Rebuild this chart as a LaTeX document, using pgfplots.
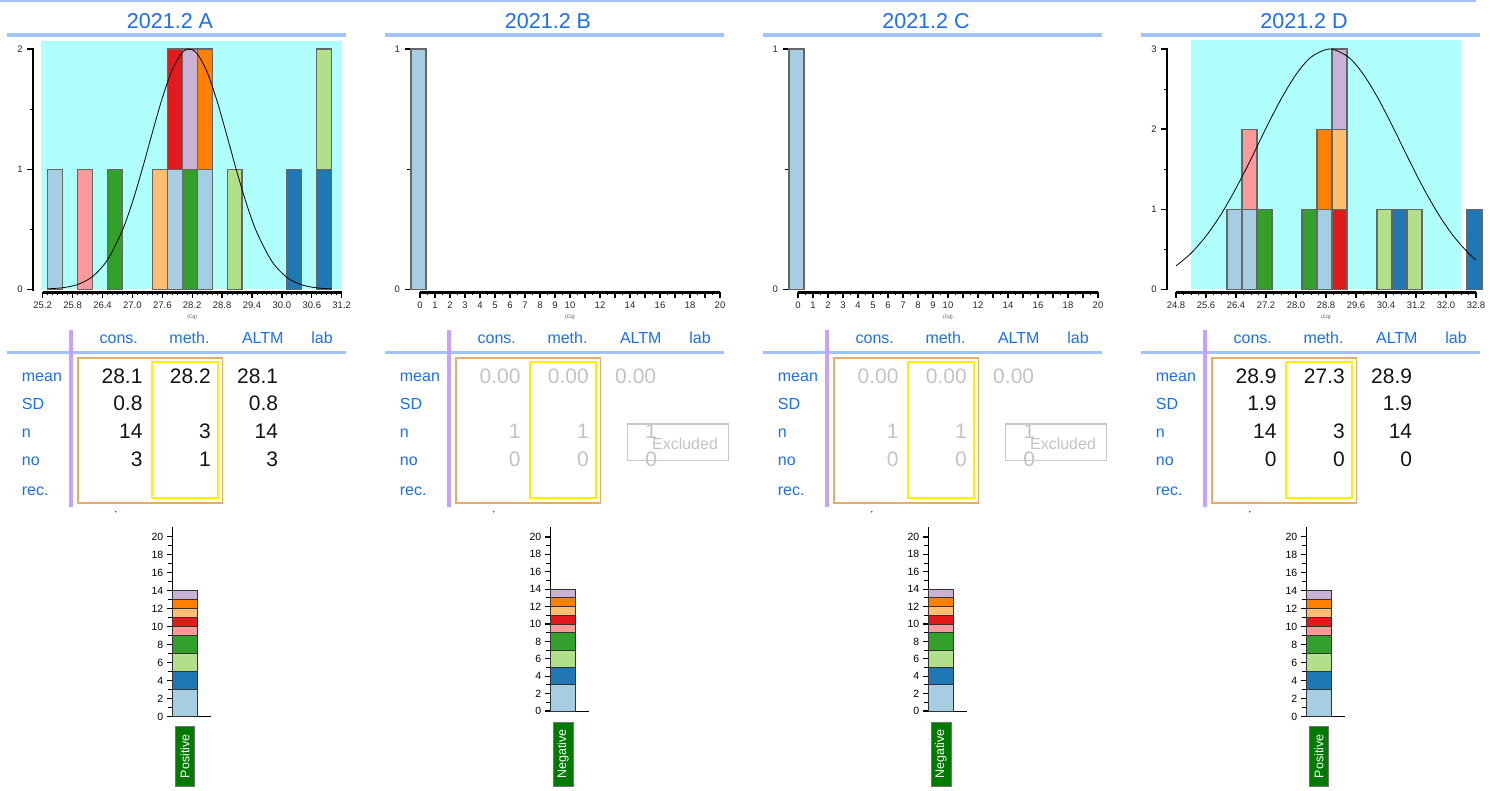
\documentclass[border=0pt]{standalone}
\usepackage{fontspec}
\setmainfont{Liberation Sans}
\usepackage{pgfplots}
\usepackage{pgfplotstable}
\pgfplotsset{compat=1.18}

\definecolor{hdrblue}{RGB}{26,110,240}
\definecolor{linblue}{RGB}{160,196,250}
\definecolor{purp}{RGB}{200,160,255}
\definecolor{boxor}{RGB}{232,172,100}
\definecolor{boxyel}{RGB}{255,238,0}
\definecolor{cyanbg}{RGB}{175,255,252}
\definecolor{gtxt}{RGB}{195,195,195}
\definecolor{gbox}{RGB}{200,200,200}
\definecolor{posgreen}{RGB}{0,122,0}
\definecolor{cLB}{HTML}{A6CEE3}
\definecolor{cB}{HTML}{1F78B4}
\definecolor{cLG}{HTML}{B2DF8A}
\definecolor{cG}{HTML}{33A02C}
\definecolor{cPK}{HTML}{FB9A99}
\definecolor{cR}{HTML}{E31A1C}
\definecolor{cLO}{HTML}{FDBF6F}
\definecolor{cO}{HTML}{FF7F00}
\definecolor{cLV}{HTML}{CAB2D6}

\newcommand\titlefont{\fontsize{21.5}{24}\selectfont}
\newcommand\hdrfont{\fontsize{16}{19}\selectfont}
\newcommand\valfont{\fontsize{21}{24}\selectfont}
\newcommand\tickfont{\fontsize{9.5}{11}\selectfont}

% histogram counts per colour group (bin centre, counts)
\pgfplotstableread{
x LB B LG G PK R LO O LV
25.45 1 0 0 0 0 0 0 0 0
26.05 0 0 0 0 1 0 0 0 0
26.65 0 0 0 1 0 0 0 0 0
27.55 0 0 0 0 0 0 1 0 0
27.85 1 0 0 0 0 1 0 0 0
28.15 0 0 0 1 0 0 0 0 1
28.45 1 0 0 0 0 0 0 1 0
29.05 0 0 1 0 0 0 0 0 0
30.25 0 1 0 0 0 0 0 0 0
30.85 0 1 1 0 0 0 0 0 0
}\histA
\pgfplotstableread{
x LB B LG G PK R LO O LV
-0.1 1 0 0 0 0 0 0 0 0
}\histB
\pgfplotstableread{
x LB B LG G PK R LO O LV
26.36 1 0 0 0 0 0 0 0 0
26.76 1 0 0 0 1 0 0 0 0
27.16 0 0 0 1 0 0 0 0 0
28.36 0 0 0 1 0 0 0 0 0
28.76 1 0 0 0 0 0 0 1 0
29.16 0 0 0 0 0 1 1 0 1
30.36 0 0 1 0 0 0 0 0 0
30.76 0 1 0 0 0 0 0 0 0
31.16 0 0 1 0 0 0 0 0 0
32.76 0 1 0 0 0 0 0 0 0
}\histD
\pgfplotstableread{
x LB B LG G PK R LO O LV
0.331 3 2 2 2 1 1 1 1 1
}\stackdata

\newcommand\stackbars[1]{%
  \addplot[fill=cLB] table[x=x,y=LB]{#1};
  \addplot[fill=cB]  table[x=x,y=B]{#1};
  \addplot[fill=cLG] table[x=x,y=LG]{#1};
  \addplot[fill=cG]  table[x=x,y=G]{#1};
  \addplot[fill=cPK] table[x=x,y=PK]{#1};
  \addplot[fill=cR]  table[x=x,y=R]{#1};
  \addplot[fill=cLO] table[x=x,y=LO]{#1};
  \addplot[fill=cO]  table[x=x,y=O]{#1};
  \addplot[fill=cLV] table[x=x,y=LV]{#1};
}

\pgfplotsset{
  hist/.style={
    scale only axis, anchor=south west, height=240.3pt, clip=false,
    axis x line=bottom, axis y line=left,
    axis x line shift=3pt, axis y line shift=10pt,
    x axis line style={-, line width=2.5pt},
    y axis line style={draw=none},
    tick align=outside,
    major tick length=5.5pt, minor tick length=3pt,
    every tick/.style={black},
    every major tick/.append style={line width=1.3pt},
    every minor tick/.append style={line width=0.9pt},
    tick label style={font=\tickfont, text=black!85},
    xticklabel style={yshift=-1pt},
    yticklabel style={xshift=-1pt},
    /pgf/number format/assume math mode=true,
    xlabel={(Cq)},
    xlabel style={font=\fontsize{5}{6}\selectfont, text=black!70, at={(axis description cs:0.5,0)}, anchor=north, yshift=-22pt},
    ybar stacked,
    every axis plot/.append style={draw=black!60, line width=1.1pt},
  },
  curveax/.style={scale only axis, anchor=south west, height=240.3pt, hide axis, clip=false},
  stk/.style={
    scale only axis, anchor=south west, width=38.4pt, xmin=0, xmax=1, ymin=0, ymax=21.1, clip=false,
    axis x line=bottom, axis y line=left,
    x axis line style={-, line width=1pt}, y axis line style={-, line width=1.6pt},
    xtick=\empty, ytick={0,2,...,20}, minor ytick={1,3,...,19},
    tick align=outside, major tick length=5.5pt, minor tick length=4pt,
    every tick/.style={black, line width=1.1pt},
    tick label style={font=\fontsize{10.5}{12}\selectfont},
    /pgf/number format/assume math mode=true,
    ybar stacked, bar width=0.64,
    every axis plot/.append style={draw=black!80, line width=0.9pt},
  },
}

\newcommand\PanelFrame[2]{%
\begin{scope}[x=1pt,y=-1pt,xshift=#1pt]
  \node[anchor=base, font=\titlefont, text=hdrblue, inner sep=0] at (170,28.3) {#2};
  \draw[linblue, line width=3.3pt] (7,35) -- (346,35);
  \draw[linblue, line width=3.5pt] (7,352.3) -- (346,352.3);
  \draw[purp, line width=4pt] (71.3,330) -- (71.3,506.7);
  \foreach \t/\xx in {cons./118.8, meth./189.5, ALTM/262.8, lab/322}
    \node[anchor=base, font=\hdrfont, text=hdrblue, inner sep=0] at (\xx,343) {\t};
  \foreach \t/\yy in {mean/381.7, SD/409.3, n/437.3, no/465, rec./495}
    \node[anchor=base west, font=\hdrfont, text=hdrblue, inner sep=0] at (21.7,\yy) {\t};
  \draw[boxor, line width=1.6pt] (77.7,357.7) rectangle (222.3,502.7);
  \draw[boxyel, line width=1.8pt] (151.7,361.7) rectangle (218.3,498.3);
  \fill[posgreen] (115.7,511.7) circle (0.9);
\end{scope}}

\newcommand\V[4][black!92]{\node[anchor=base east, inner sep=0, font=\valfont, text=#1] at (#2,#3) {#4};}

\begin{document}
\begin{tikzpicture}
\begin{scope}[x=1pt,y=-1pt]
  \draw[linblue, line width=2pt] (0,1) -- (1476,1);
\end{scope}
\PanelFrame{0}{2021.2 A}
\PanelFrame{378}{2021.2 B}
\PanelFrame{756}{2021.2 C}
\PanelFrame{1134}{2021.2 D}

% ---- table values
\begin{scope}[x=1pt,y=-1pt]
  \V{142.7}{383.3}{28.1} \V{211}{383.3}{28.2} \V{278.3}{383.3}{28.1}
  \V{142.7}{410.7}{0.8} \V{278.3}{410.7}{0.8}
  \V{142.7}{438.3}{14} \V{211}{438.3}{3} \V{278.3}{438.3}{14}
  \V{142.7}{466}{3} \V{211}{466}{1} \V{278.3}{466}{3}
\end{scope}
\foreach \off in {378,756}{
\begin{scope}[x=1pt,y=-1pt,xshift=\off pt]
  \V[gtxt]{142.7}{383.3}{0.00} \V[gtxt]{211}{383.3}{0.00} \V[gtxt]{278.3}{383.3}{0.00}
  \V[gtxt]{142.7}{438.3}{1} \V[gtxt]{211}{438.3}{1} \V[gtxt]{279.3}{438.3}{1}
  \V[gtxt]{142.7}{466}{0} \V[gtxt]{211}{466}{0} \V[gtxt]{279.3}{466}{0}
  \draw[gbox, line width=1.5pt] (249.3,424) rectangle (350.3,460.7);
  \node[anchor=base, inner sep=0, font=\hdrfont, text=gtxt] at (307,449.3) {Excluded};
\end{scope}}
\begin{scope}[x=1pt,y=-1pt,xshift=1134pt]
  \V{142.7}{383.3}{28.9} \V{211}{383.3}{27.3} \V{278.3}{383.3}{28.9}
  \V{142.7}{410.7}{1.9} \V{278.3}{410.7}{1.9}
  \V{142.7}{438.3}{14} \V{211}{438.3}{3} \V{278.3}{438.3}{14}
  \V{142.7}{466}{0} \V{211}{466}{0} \V{278.3}{466}{0}
\end{scope}

% ---- result labels
\begin{scope}[x=1pt,y=-1pt]
  \tikzset{res/.style={fill=posgreen, draw=black!55, line width=0.6pt, rotate=90, text=white,
     font=\fontsize{12.5}{14}\selectfont, inner sep=0}}
  \node[res, minimum width=59.3pt, minimum height=18.6pt] at (185,756.3) {Positive};
  \node[res, minimum width=64pt, minimum height=20pt] at (563,754) {Negative};
  \node[res, minimum width=64pt, minimum height=20pt] at (941,754) {Negative};
  \node[res, minimum width=59.3pt, minimum height=18.6pt] at (1319,756.3) {Positive};
\end{scope}

% ---- histogram A: background, bars, fitted curve
\begin{axis}[curveax, at={(42.7pt,-289.3pt)}, width=299pt, xmin=25.2, xmax=31.2, ymin=0, ymax=2]
  \fill[cyanbg] (axis cs:25.16,0) rectangle (axis cs:31.2,2.066);
  \draw[black, line width=2pt] ([xshift=-10pt]axis cs:25.2,-0.01) -- ([xshift=-10pt]axis cs:25.2,2.01);
\end{axis}
\begin{axis}[hist, at={(42.7pt,-289.3pt)}, width=299pt,
  xmin=25.2, xmax=31.2, ymin=0, ymax=2, bar width=0.3,
  xtick={25.2,25.8,26.4,27.0,27.6,28.2,28.8,29.4,30.0,30.6,31.2},
  xticklabels={25.2,25.8,26.4,27.0,27.6,28.2,28.8,29.4,30.0,30.6,31.2},
  minor x tick num=5, ytick={0,1,2}, minor ytick={0.5,1.5}]
  \stackbars{\histA}
\end{axis}
\begin{axis}[curveax, at={(42.7pt,-289.3pt)}, width=299pt, xmin=25.2, xmax=31.2, ymin=0, ymax=2]
  \addplot[black, line width=0.8pt, smooth, no marks] coordinates {
   (25.3,0.004) (25.6,0.013) (25.9,0.040) (26.2,0.106) (26.5,0.245) (26.8,0.492)
   (27.0,0.725) (27.2,1.003) (27.4,1.304) (27.6,1.592) (27.8,1.827) (28.0,1.970)
   (28.14,2.0) (28.3,1.960) (28.5,1.808) (28.7,1.565) (28.9,1.274) (29.1,0.973)
   (29.3,0.699) (29.5,0.471) (29.8,0.232) (30.1,0.099) (30.4,0.037) (30.7,0.012) (31.0,0.003)};
\end{axis}

% ---- histograms B and C
\foreach \xo in {420,798}{
\begin{axis}[hist, at={(\xo pt,-289.3pt)}, width=300pt,
  xmin=0, xmax=20, ymin=0, ymax=1, bar width=1,
  xtick={0,...,20},
  xticklabels={0,1,2,3,4,5,6,7,8,9,10,,12,,14,,16,,18,,20},
  minor x tick num=1, ytick={0,1}, minor ytick={0.5}]
  \stackbars{\histB}
\end{axis}}

% ---- histogram D: background, bars, fitted curve
\begin{axis}[curveax, at={(1176pt,-289.3pt)}, width=300pt, xmin=24.8, xmax=32.8, ymin=0, ymax=3]
  \fill[cyanbg] (axis cs:25.19,0) rectangle (axis cs:32.41,3.11);
  \draw[black, line width=2pt] ([xshift=-9.3pt]axis cs:24.8,-0.01) -- ([xshift=-9.3pt]axis cs:24.8,3.01);
\end{axis}
\begin{axis}[hist, at={(1176pt,-289.3pt)}, width=300pt,
  xmin=24.8, xmax=32.8, ymin=0, ymax=3, bar width=0.4, axis y line shift=9.3pt,
  xtick={24.8,25.6,26.4,27.2,28.0,28.8,29.6,30.4,31.2,32.0,32.8},
  xticklabels={24.8,25.6,26.4,27.2,28.0,28.8,29.6,30.4,31.2,32.0,32.8},
  minor x tick num=3, ytick={0,1,2,3}, minor ytick={0.5,1.5,2.5}]
  \stackbars{\histD}
\end{axis}
\begin{axis}[curveax, at={(1176pt,-289.3pt)}, width=300pt, xmin=24.8, xmax=32.8, ymin=0, ymax=3]
  \addplot[black, line width=0.8pt, smooth, no marks] coordinates {
   (24.8,0.292) (25.2,0.450) (25.6,0.664) (26.0,0.936) (26.4,1.262) (26.8,1.628)
   (27.2,2.011) (27.6,2.374) (28.0,2.681) (28.4,2.898) (28.9,3.0) (29.4,2.898)
   (29.8,2.681) (30.2,2.374) (30.6,2.011) (31.0,1.628) (31.4,1.262) (31.8,0.936)
   (32.2,0.664) (32.6,0.450) (32.8,0.365)};
\end{axis}

% ---- stacked totals
\begin{axis}[stk, at={(172.3pt,-716.7pt)}, height=190pt] \stackbars{\stackdata} \end{axis}
\begin{axis}[stk, at={(550.3pt,-711pt)}, height=183.6pt] \stackbars{\stackdata} \end{axis}
\begin{axis}[stk, at={(928.3pt,-711pt)}, height=183.6pt] \stackbars{\stackdata} \end{axis}
\begin{axis}[stk, at={(1306.3pt,-716.7pt)}, height=190pt] \stackbars{\stackdata} \end{axis}

\pgfresetboundingbox
\path[use as bounding box] (0,0) rectangle (1490pt,-790pt);
\end{tikzpicture}
\end{document}
